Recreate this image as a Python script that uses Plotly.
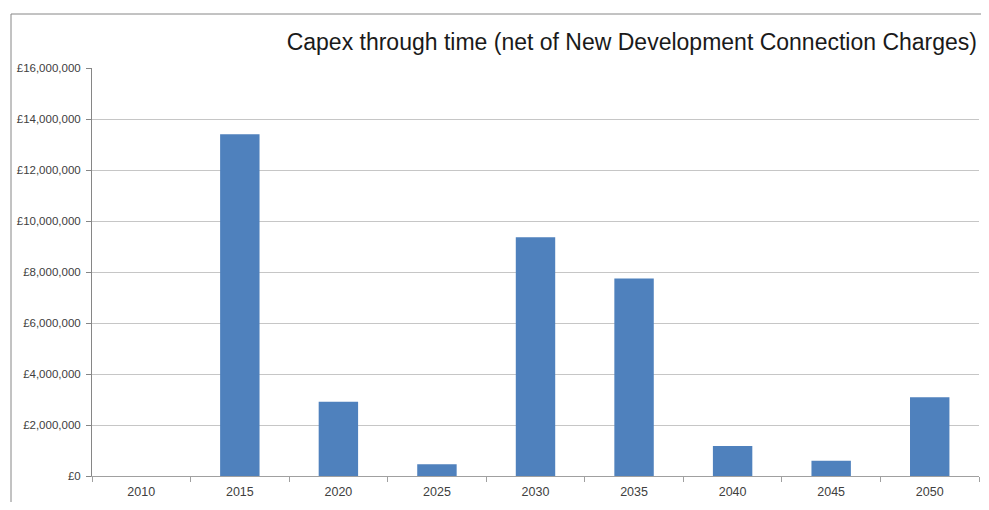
import plotly.graph_objects as go

# data
years = ["2010", "2015", "2020", "2025", "2030", "2035", "2040", "2045", "2050"]
capex = [0, 13400000, 2910000, 460000, 9360000, 7750000, 1180000, 600000, 3090000]

ytick_vals = list(range(0, 16000001, 2000000))
ytick_text = ["£0"] + [f"£{v:,}" for v in ytick_vals[1:]]

# page body has an 8px margin, so the figure is sized to fit inside the window
W, H = 973, 494
L, T, R, B = 84, 60, 2, 26
plot_w = W - L - R
plot_h = H - T - B

fig = go.Figure(
    go.Bar(
        x=years,
        y=capex,
        marker=dict(color="#4F81BD", line=dict(width=0)),
        width=0.4,
        hoverinfo="x+y",
    )
)

fig.update_layout(
    width=W,
    height=H,
    paper_bgcolor="white",
    plot_bgcolor="white",
    margin=dict(l=L, r=R, t=T, b=B, autoexpand=False),
    showlegend=False,
    font=dict(family="Liberation Sans", size=11, color="#404040"),
    title=dict(
        text="Capex through time (net of New Development Connection Charges)",
        x=(977 - 8) / W,
        xanchor="right",
        xref="container",
        y=1 - (42 - 8) / H,
        yanchor="middle",
        yref="container",
        font=dict(family="Liberation Sans", size=23, color="#1a1a1a"),
    ),
    xaxis=dict(
        type="category",
        automargin=False,
        showline=True,
        linecolor="#A0A0A0",
        linewidth=1,
        ticks="outside",
        tickson="boundaries",
        ticklen=5,
        tickcolor="#A0A0A0",
        ticklabelstandoff=4,
        showgrid=False,
        tickfont=dict(size=12.5, color="#404040"),
        fixedrange=True,
    ),
    yaxis=dict(
        range=[0, 16000000],
        automargin=False,
        tickvals=ytick_vals,
        ticktext=ytick_text,
        showline=True,
        linecolor="#868686",
        linewidth=1,
        ticks="outside",
        ticklen=5,
        tickcolor="#868686",
        ticklabelstandoff=3,
        showgrid=True,
        gridcolor="#C6C6C6",
        gridwidth=1,
        zeroline=False,
        tickfont=dict(size=11.5, color="#404040"),
        fixedrange=True,
    ),
    shapes=[
        dict(
            type="rect",
            xref="paper",
            yref="paper",
            x0=(3 - L) / plot_w,
            x1=1.05,
            y0=-0.2,
            y1=1 + (T - 6) / plot_h,
            line=dict(color="#868686", width=1),
            fillcolor="rgba(0,0,0,0)",
            layer="below",
        )
    ],
)

fig.write_html("out.html")
